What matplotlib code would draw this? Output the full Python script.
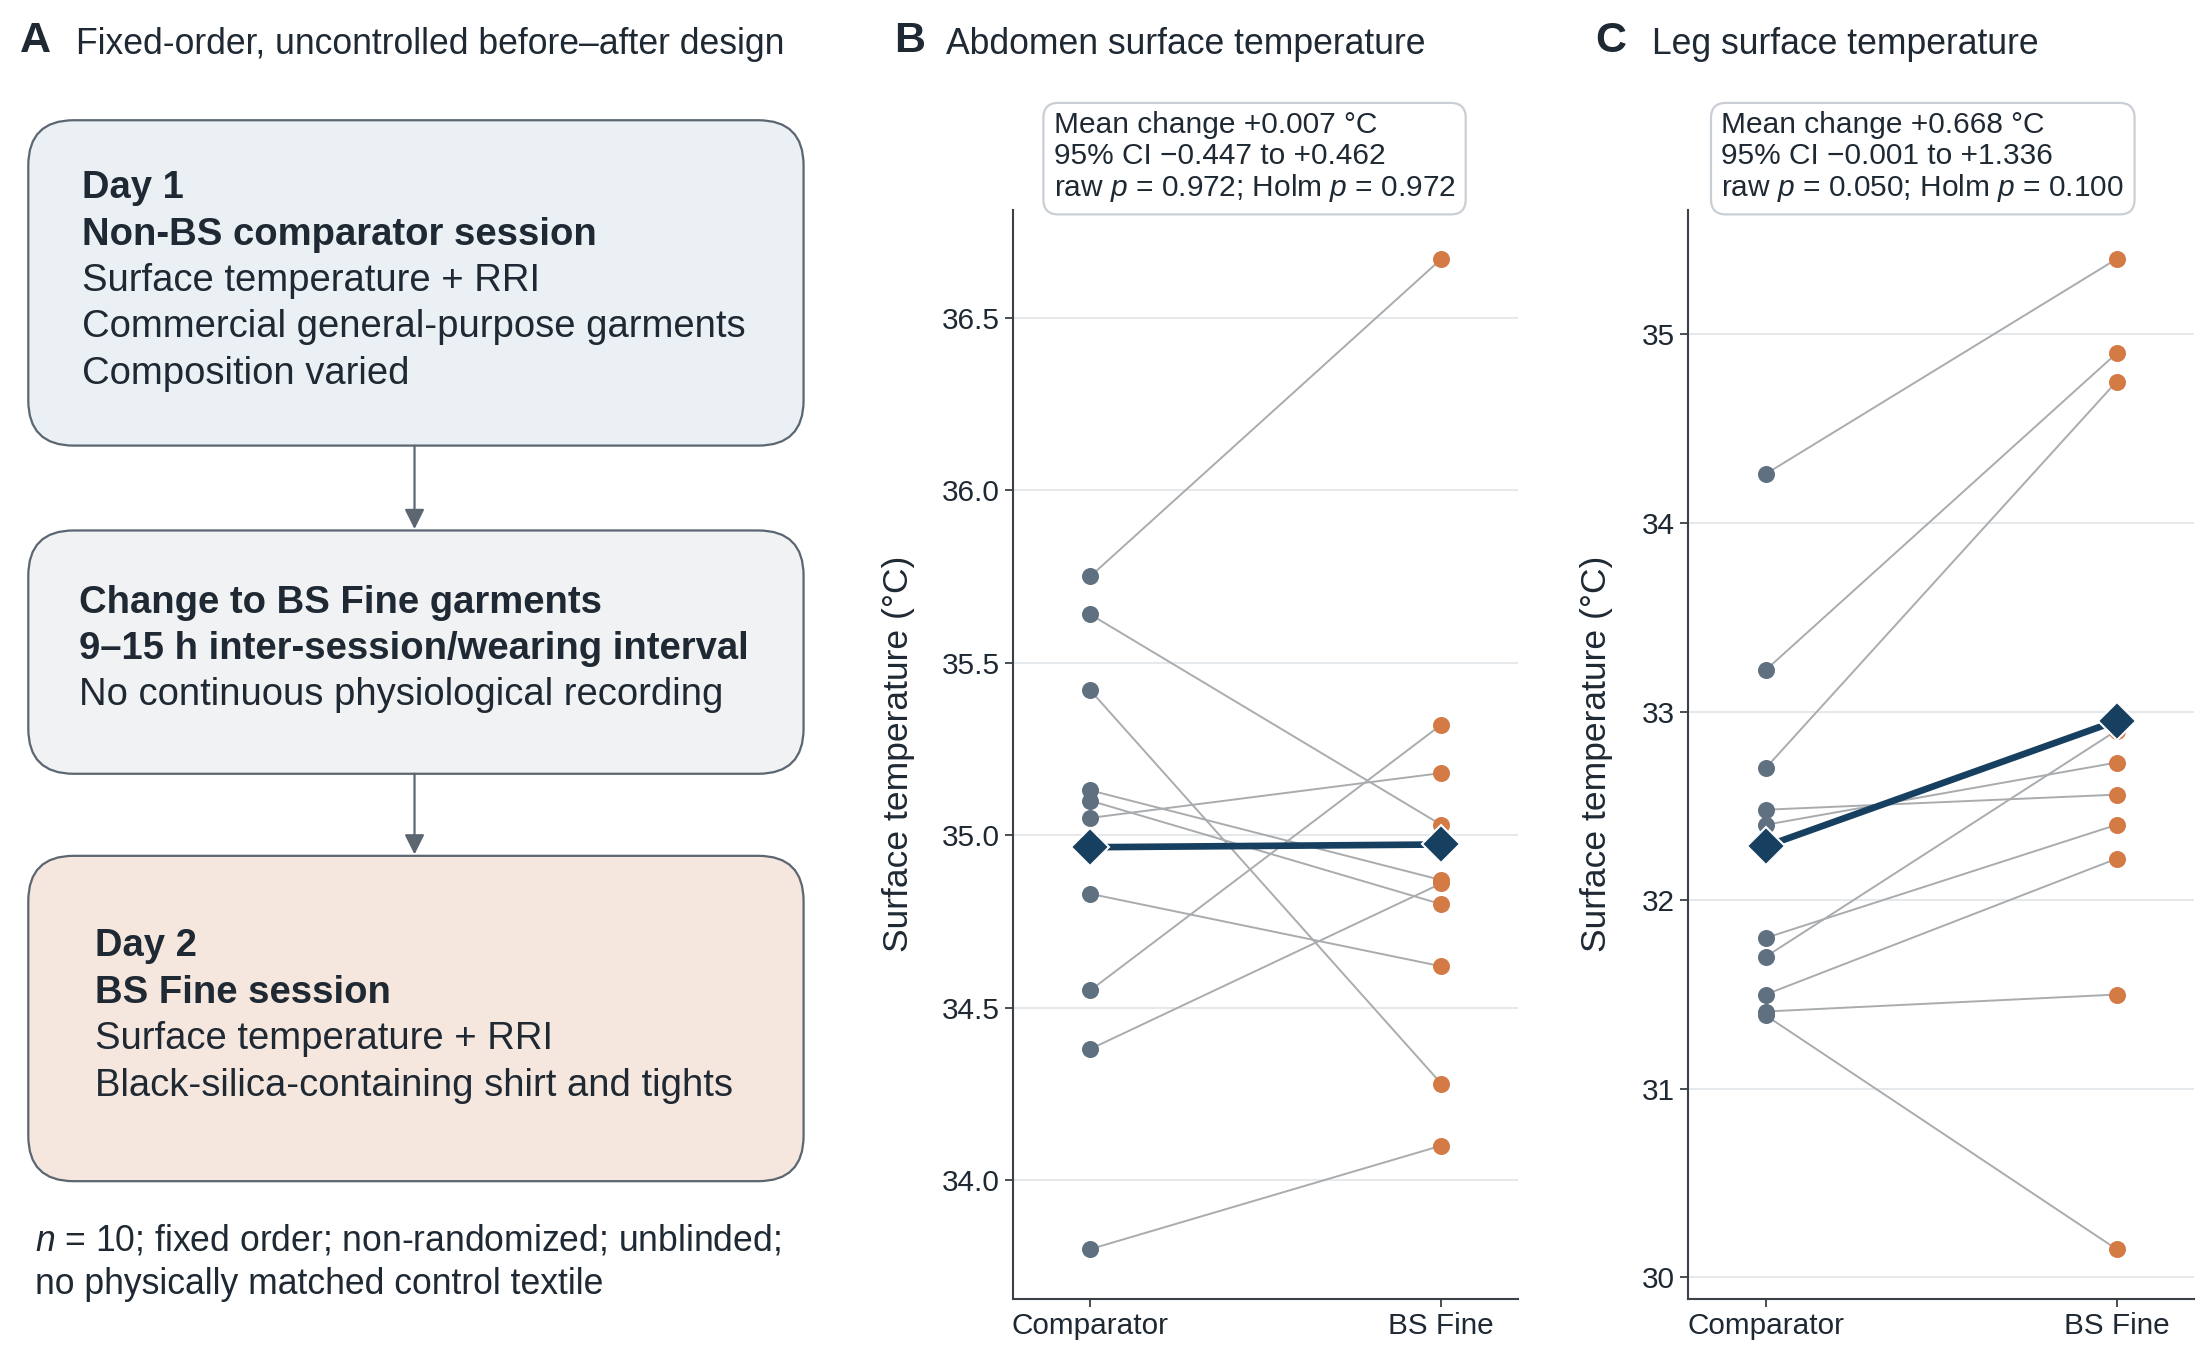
import numpy as np
import matplotlib
matplotlib.use("Agg")
import matplotlib.pyplot as plt
from matplotlib.patches import FancyBboxPatch
from matplotlib.ticker import MultipleLocator, FormatStrFormatter

plt.rcParams['font.family'] = ['Liberation Sans', 'DejaVu Sans']
plt.rcParams['mathtext.fontset'] = 'custom'
plt.rcParams['mathtext.rm'] = 'Liberation Sans'
plt.rcParams['mathtext.it'] = 'Liberation Sans:italic'

# datos
condiciones = ['Comparator', 'BS Fine']
abdomen_comp = [35.75, 35.64, 35.42, 35.13, 35.10, 35.05, 34.83, 34.55, 34.38, 33.80]
abdomen_bs = [36.67, 35.03, 34.28, 34.87, 34.80, 35.18, 34.62, 35.32, 34.86, 34.10]
pierna_comp = [34.26, 33.22, 32.70, 32.48, 32.40, 31.80, 31.70, 31.50, 31.41, 31.39]
pierna_bs = [35.40, 34.90, 34.75, 32.56, 32.73, 32.40, 32.90, 32.22, 31.50, 30.15]

stats_abdomen = ['Mean change +0.007 °C', '95% CI −0.447 to +0.462',
                 'raw $p$ = 0.972; Holm $p$ = 0.972']
stats_pierna = ['Mean change +0.668 °C', '95% CI −0.001 to +1.336',
                'raw $p$ = 0.050; Holm $p$ = 0.100']

txt = '#1f2933'
gris_osc = '#5b6670'

fig = plt.figure(figsize=(22.07, 13.58), dpi=100)

# ---- panel A: diagrama (coordenadas tipo pixel 1560x960)
axA = fig.add_axes([0, 0, 1, 1])
axA.set_xlim(0, 1560)
axA.set_ylim(960, 0)
axA.axis('off')

cajas = [
    (85, 230, '#ebf0f4', 58, [('Day 1', True), ('Non-BS comparator session', True),
                              ('Surface temperature + RRI', False),
                              ('Commercial general-purpose garments', False),
                              ('Composition varied', False)], 133),
    (375, 172, '#f1f2f3', 56, [('Change to BS Fine garments', True),
                               ('9–15 h inter-session/wearing interval', True),
                               ('No continuous physiological recording', False)], 426),
    (605, 230, '#f5e7de', 67, [('Day 2', True), ('BS Fine session', True),
                               ('Surface temperature + RRI', False),
                               ('Black-silica-containing shirt and tights', False)], 669),
]
for y0, h, color, tx, lineas, ty in cajas:
    axA.add_patch(FancyBboxPatch((20, y0), 548, h, boxstyle='round,pad=0,rounding_size=32',
                                 fc=color, ec=gris_osc, lw=1.6))
    for i, (s, negrita) in enumerate(lineas):
        axA.text(tx, ty + i * 32.8, s, fontsize=27.5, color=txt, va='center', ha='left',
                 fontweight='bold' if negrita else 'normal')

for y_ini, y_fin in [(315, 374), (547, 604)]:
    axA.annotate('', xy=(293, y_fin), xytext=(293, y_ini),
                 arrowprops=dict(arrowstyle='-|>', color=gris_osc, lw=1.6, mutation_scale=30,
                                 shrinkA=0, shrinkB=0))

axA.text(25, 877, '$n$ = 10; fixed order; non-randomized; unblinded;', fontsize=25.6,
         color=txt, va='center')
axA.text(25, 908, 'no physically matched control textile', fontsize=25.6, color=txt, va='center')

# titulos
fig.text(0.009, 0.970, 'A', fontsize=31, fontweight='bold', color=txt, va='center')
fig.text(0.0346, 0.967, 'Fixed-order, uncontrolled before–after design', fontsize=25.6,
         color=txt, va='center')
fig.text(0.405, 0.970, 'B', fontsize=31, fontweight='bold', color=txt, va='center')
fig.text(0.4285, 0.967, 'Abdomen surface temperature', fontsize=25.6, color=txt, va='center')
fig.text(0.723, 0.970, 'C', fontsize=31, fontweight='bold', color=txt, va='center')
fig.text(0.7485, 0.967, 'Leg surface temperature', fontsize=25.6, color=txt, va='center')


def panel(rect, comp, bs, paso, fmt, stats, x_stats, pad_y):
    ax = fig.add_axes(rect)
    for c, b in zip(comp, bs):
        ax.plot([0, 1], [c, b], color='#a9acaf', lw=1.4, zorder=2)
    ax.scatter(np.zeros(len(comp)), comp, s=150, color='#5f7080', zorder=3, lw=0)
    ax.scatter(np.ones(len(bs)), bs, s=150, color='#d47a45', zorder=3, lw=0)
    ax.plot([0, 1], [np.mean(comp), np.mean(bs)], color='#173f5f', lw=4.8, marker='D',
            ms=19, mec='white', mew=1.5, zorder=4)
    ax.set_xlim(-0.22, 1.22)
    ax.set_xticks([0, 1])
    ax.set_xticklabels(condiciones)
    ax.yaxis.set_major_locator(MultipleLocator(paso))
    ax.yaxis.set_major_formatter(FormatStrFormatter(fmt))
    ax.yaxis.grid(True, color='#e4e7ea', lw=1.3)
    ax.set_axisbelow(True)
    for s in ['top', 'right']:
        ax.spines[s].set_visible(False)
    for s in ['left', 'bottom']:
        ax.spines[s].set_color('#3a4148')
        ax.spines[s].set_linewidth(1.5)
    ax.tick_params(labelsize=21.4, colors='#3a4148', labelcolor=txt, length=6, width=1.3)
    ax.set_ylabel('Surface temperature (°C)', fontsize=25.5, color=txt, labelpad=pad_y)
    fig.text(x_stats, 0.918, '\n'.join(stats), fontsize=21.5, color=txt, va='top', ha='left',
             linespacing=1.1,
             bbox=dict(boxstyle='round,pad=0.35,rounding_size=0.5', fc='white',
                       ec='#c9cfd4', lw=1.6))
    return ax


panel([0.459, 0.0437, 0.229, 0.802], abdomen_comp, abdomen_bs, 0.5, '%.1f',
      stats_abdomen, 0.4775, 19)
panel([0.765, 0.0437, 0.229, 0.802], pierna_comp, pierna_bs, 1, '%d',
      stats_pierna, 0.780, 21)

plt.savefig('out.png', dpi=100)
